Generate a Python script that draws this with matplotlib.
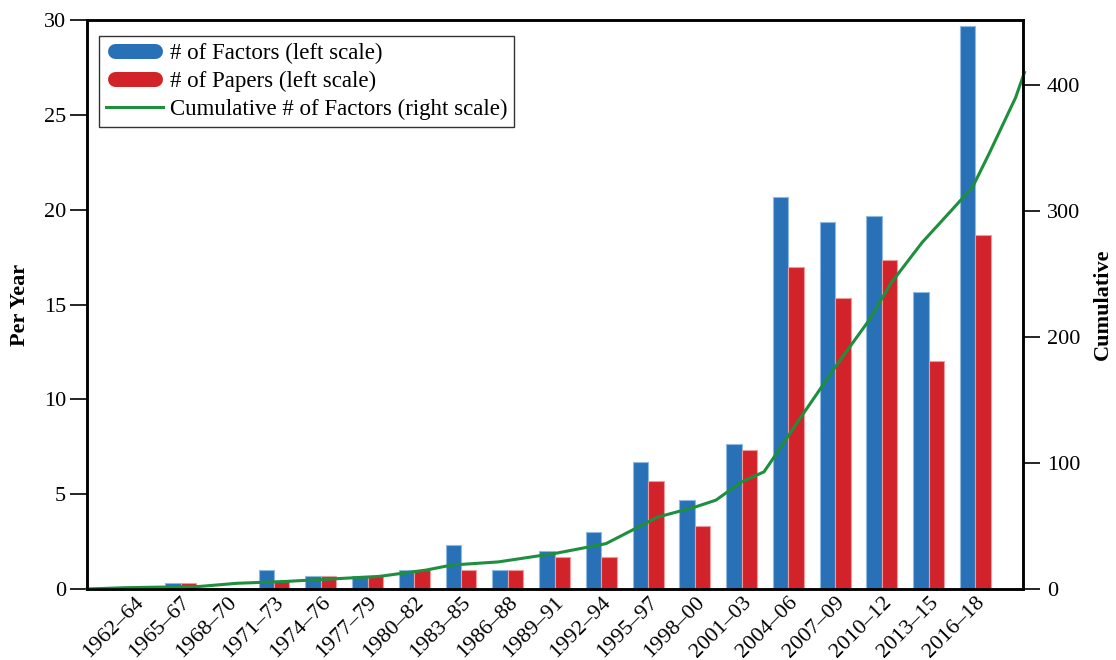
import matplotlib
matplotlib.use("Agg")
import matplotlib.pyplot as plt
from matplotlib.lines import Line2D
from matplotlib.legend_handler import HandlerLine2D
import numpy as np

plt.rcParams['font.family'] = ['Liberation Serif', 'DejaVu Serif']

# data
periods = ['1962–64', '1965–67', '1968–70', '1971–73', '1974–76', '1977–79',
           '1980–82', '1983–85', '1986–88', '1989–91', '1992–94', '1995–97',
           '1998–00', '2001–03', '2004–06', '2007–09', '2010–12', '2013–15',
           '2016–18']
factors_per_year = [0, 0.33, 0, 1.0, 0.67, 0.67, 1.0, 2.33, 1.0, 2.0, 3.0,
                    6.67, 4.67, 7.67, 20.67, 19.33, 19.67, 15.67, 29.67]
papers_per_year = [0, 0.33, 0, 0.4, 0.67, 0.67, 1.0, 1.0, 1.0, 1.67, 1.67,
                   5.67, 3.33, 7.33, 17.0, 15.33, 17.33, 12.0, 18.67]

# cumulative line: position on the category axis, value on the right scale
cum_pos = [-1, -0.2, 1.4, 2.2, 3.25, 4.25, 5.25, 6.25, 6.8, 7.8, 9.05, 10.1,
           11.2, 12.0, 12.45, 13.0, 13.48, 13.7, 14.28, 15.0, 15.72, 16.2,
           16.86, 17.5, 17.94, 18.3, 18.86, 19.05]
cum_factors = [0, 1, 2, 4.5, 6, 8, 10, 15, 19, 21.5, 28.5, 36,
               57, 65, 70.5, 85, 93, 105, 137, 176, 213, 243,
               275, 301, 319, 346, 390, 410]

BLUE = '#2971b7'
RED = '#d2232a'
GREEN = '#1e8f3e'
FS = 16

fig = plt.figure(figsize=(11.16, 6.6), dpi=100)
ax = fig.add_axes([0.078, 0.1076, 0.8387, 0.862])

x = np.arange(len(periods))
w = 0.33
ax.bar(x - w / 2, factors_per_year, w, color=BLUE, edgecolor='#8fb8e3', linewidth=0.8)
ax.bar(x + w / 2, papers_per_year, w, color=RED, edgecolor='#ec9a9c', linewidth=0.8)

ax.set_xlim(-1, 19.02)
ax.set_ylim(0, 30)
ax.set_yticks([0, 5, 10, 15, 20, 25, 30])
ax.set_xticks(x)
ax.set_xticklabels(periods, rotation=45, ha='right', rotation_mode='anchor')
ax.tick_params(axis='x', length=0, pad=3, labelsize=FS)
ax.tick_params(axis='y', length=12, width=1.2, direction='out', labelsize=FS, pad=3)
ax.set_ylabel('Per Year', fontsize=FS, fontweight='bold', labelpad=10)

ax2 = ax.twinx()
ax2.plot(cum_pos, cum_factors, color=GREEN, linewidth=2.2, clip_on=False)
ax2.set_ylim(0, 451.6)
ax2.set_yticks([0, 100, 200, 300, 400])
ax2.tick_params(axis='y', length=12, width=1.2, direction='out', labelsize=FS, pad=5)
ax2.set_ylabel('Cumulative', fontsize=FS, fontweight='bold', labelpad=9)

for a in (ax, ax2):
    for s in a.spines.values():
        s.set_linewidth(1.8)

handles = [
    Line2D([], [], color=BLUE, linewidth=10.8, solid_capstyle='round'),
    Line2D([], [], color=RED, linewidth=10.8, solid_capstyle='round'),
    Line2D([], [], color=GREEN, linewidth=2.2),
]
labels = ['# of Factors (left scale)', '# of Papers (left scale)',
          'Cumulative # of Factors (right scale)']
inset = HandlerLine2D(numpoints=2, marker_pad=0.37)
leg = ax2.legend(handles, labels, loc='upper left', bbox_to_anchor=(0.0128, 0.972),
                 fontsize=16.5, frameon=True, fancybox=False, edgecolor='black',
                 handlelength=2.5, handletextpad=0.27, labelspacing=0.3,
                 borderpad=0.31, borderaxespad=0,
                 handler_map={handles[0]: inset, handles[1]: inset})
leg.get_frame().set_linewidth(1.0)

fig.savefig('out.png', dpi=100)
